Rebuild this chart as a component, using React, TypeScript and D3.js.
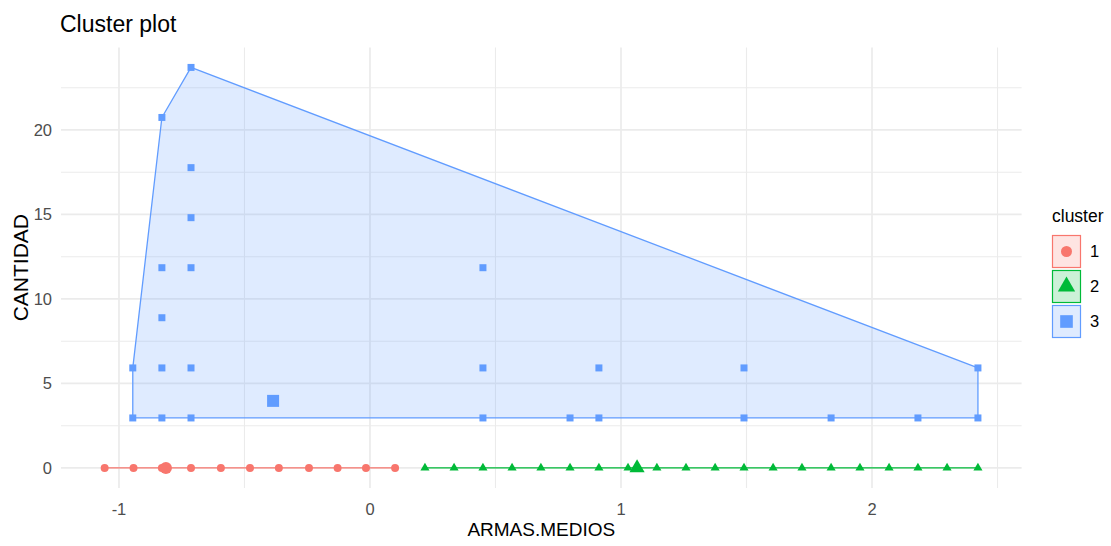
import React from 'react';
import * as d3 from 'd3';

// cluster 1 (red circles), all on CANTIDAD = 0
const c1X = [-1.057, -0.942, -0.829, -0.713, -0.594, -0.478, -0.363, -0.243, -0.129, -0.016, 0.1];
const c1Y = [0, 0, 0, 0, 0, 0, 0, 0, 0, 0, 0];

// cluster 2 (green triangles), all on CANTIDAD = 0
const c2X = [0.219, 0.335, 0.45, 0.566, 0.681, 0.797, 0.912, 1.028, 1.143, 1.259, 1.375, 1.49, 1.606, 1.721, 1.837, 1.952, 2.068, 2.183, 2.299, 2.422];
const c2Y = [0, 0, 0, 0, 0, 0, 0, 0, 0, 0, 0, 0, 0, 0, 0, 0, 0, 0, 0, 0];

// cluster 3 (blue squares)
const c3X = [-0.945, -0.829, -0.713, -0.945, -0.829, -0.713, -0.829, -0.829, -0.713, -0.713, -0.713, -0.829, -0.713,
  0.45, 0.45, 0.45, 0.797, 0.912, 0.912, 1.49, 1.49, 1.837, 2.183, 2.422, 2.422];
const c3Y = [2.96, 2.96, 2.96, 5.92, 5.92, 5.92, 8.89, 11.85, 11.85, 14.81, 17.77, 20.74, 23.7,
  11.85, 5.92, 2.96, 2.96, 5.92, 2.96, 5.92, 2.96, 2.96, 2.96, 5.92, 2.96];

// cluster centres
const centerX = [-0.813, 1.064, -0.386];
const centerY = [0, 0, 3.97];

const clusterNames = ['1', '2', '3'];
const colors = ['#F8766D', '#00BA38', '#619CFF'];
const xTicks = [-1, 0, 1, 2];
const xMinor = [-0.5, 0.5, 1.5, 2.5];
const yTicks = [0, 5, 10, 15, 20];
const yMinor = [2.5, 7.5, 12.5, 17.5, 22.5];

const W = 1111;
const H = 546;
const FONT = '"Liberation Sans", Arial, sans-serif';

export default function App() {
  const clusters = [
    { xs: c1X, ys: c1Y, shape: d3.symbolCircle, size: 50, csize: 115 },
    { xs: c2X, ys: c2Y, shape: d3.symbolTriangle, size: 36, csize: 100 },
    { xs: c3X, ys: c3Y, shape: d3.symbolSquare, size: 49, csize: 144 },
  ];

  const allX = [...c1X, ...c2X, ...c3X];
  const allY = [...c1Y, ...c2Y, ...c3Y];
  const [x0, x1] = d3.extent(allX) as [number, number];
  const [y0, y1] = d3.extent(allY) as [number, number];
  const ex = (x1 - x0) * 0.05;
  const ey = (y1 - y0) * 0.05;

  const x = d3.scaleLinear().domain([x0 - ex, x1 + ex]).range([61, 1021.6]);
  const y = d3.scaleLinear().domain([y0 - ey, y1 + ey]).range([488, 47.4]);
  const [px0, px1] = x.range();
  const [py0, py1] = y.range();

  const sym = (shape: d3.SymbolType, size: number) => d3.symbol().type(shape).size(size)() || '';

  return (
    <svg width={W} height={H} style={{ position: 'absolute', left: 0, top: 0 }} fontFamily={FONT}>
      <rect width={W} height={H} fill="#fff" />

      {/* grid */}
      {yMinor.map((v) => (
        <line key={'ym' + v} x1={px0} x2={px1} y1={y(v)} y2={y(v)} stroke="#EBEBEB" strokeWidth={1.1} />
      ))}
      {xMinor.map((v) => (
        <line key={'xm' + v} x1={x(v)} x2={x(v)} y1={py0} y2={py1} stroke="#EBEBEB" strokeWidth={1.1} />
      ))}
      {yTicks.map((v) => (
        <line key={'yg' + v} x1={px0} x2={px1} y1={y(v)} y2={y(v)} stroke="#EBEBEB" strokeWidth={1.7} />
      ))}
      {xTicks.map((v) => (
        <line key={'xg' + v} x1={x(v)} x2={x(v)} y1={py0} y2={py1} stroke="#EBEBEB" strokeWidth={1.7} />
      ))}

      {/* hulls */}
      {clusters.map((c, i) => {
        const pts = c.xs.map((v, j) => [x(v), y(c.ys[j])] as [number, number]);
        const hull = d3.polygonHull(pts);
        if (hull) {
          return (
            <path key={'h' + i} d={'M' + hull.join('L') + 'Z'} fill={colors[i]} fillOpacity={0.2}
              stroke={colors[i]} strokeWidth={1.3} strokeLinejoin="round" />
          );
        }
        const xe = d3.extent(pts, (p) => p[0]) as [number, number];
        return (
          <line key={'h' + i} x1={xe[0]} x2={xe[1]} y1={pts[0][1]} y2={pts[0][1]} stroke={colors[i]} strokeWidth={1.6} />
        );
      })}

      {/* points */}
      {clusters.map((c, i) => (
        <g key={'p' + i} fill={colors[i]}>
          {c.xs.map((v, j) => (
            <path key={j} d={sym(c.shape, c.size)} transform={`translate(${x(v)},${y(c.ys[j])})`} />
          ))}
          <path d={sym(c.shape, c.csize)} transform={`translate(${x(centerX[i])},${y(centerY[i])})`} />
        </g>
      ))}

      {/* axes labels */}
      {yTicks.map((v) => (
        <text key={'yl' + v} x={52} y={y(v)} dy="0.35em" textAnchor="end" fontSize={16.5} fill="#4D4D4D">{v}</text>
      ))}
      {xTicks.map((v) => (
        <text key={'xl' + v} x={x(v)} y={515} textAnchor="middle" fontSize={16.5} fill="#4D4D4D">{v}</text>
      ))}
      <text x={(px0 + px1) / 2} y={536} textAnchor="middle" fontSize={19} fill="#000">ARMAS.MEDIOS</text>
      <text transform={`translate(28,${(py0 + py1) / 2}) rotate(-90)`} textAnchor="middle" fontSize={21} fill="#000">CANTIDAD</text>
      <text x={60} y={32} fontSize={23} fill="#000">Cluster plot</text>

      {/* legend */}
      <text x={1052} y={222} fontSize={17.5} fill="#000">cluster</text>
      {clusterNames.map((name, i) => {
        const top = 235 + i * 35;
        const c = clusters[i];
        const lsize = [95, 130, 160][i];
        return (
          <g key={'lg' + i}>
            <rect x={1052.5} y={top + 0.5} width={28} height={32} fill={colors[i]} fillOpacity={0.2} stroke={colors[i]} strokeWidth={1.2} />
            <path d={sym(c.shape, lsize)} transform={`translate(${1066.5},${top + 16.5})`} fill={colors[i]} />
            <text x={1090} y={top + 16.5} dy="0.35em" fontSize={16.5} fill="#000">{name}</text>
          </g>
        );
      })}
    </svg>
  );
}
